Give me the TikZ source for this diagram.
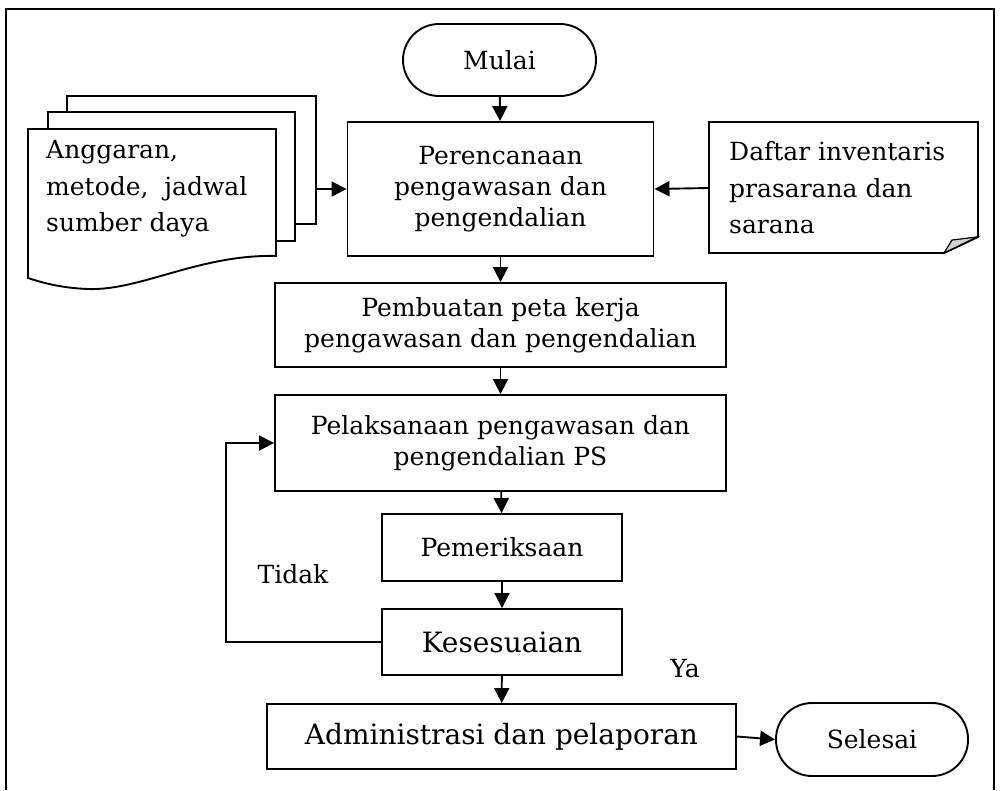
\documentclass[tikz,border=0pt]{standalone}
\usepackage{fontspec}
\setmainfont{DejaVu Serif}
\usetikzlibrary{arrows.meta}
\begin{document}
\begin{tikzpicture}[x=1pt,y=-1pt,
  box/.style={draw, line width=1.9pt, rectangle, inner sep=0pt, align=center,
              font=\fontsize{25}{31}\selectfont},
  bigbox/.style={box, font=\fontsize{28}{34}\selectfont},
  term/.style={box, rounded corners=36pt},
  flow/.style={line width=1.9pt, -{Triangle[length=15pt,width=15pt]}},
  lbl/.style={inner sep=0pt, font=\fontsize{25}{31}\selectfont},
  sidetext/.style={inner sep=0pt, anchor=west, align=left, font=\fontsize{25}{36.5}\selectfont},
  sheet/.style={draw, line width=1.9pt, fill=white, line join=miter}]
\useasboundingbox (0,0) rectangle (1000,790);

% outer frame, open at the bottom
\draw[line width=1.5pt] (6,790) -- (6,9) -- (994,9) -- (994,790);

% terminators
\node[term, minimum width=193pt, minimum height=72pt] (start) at (499.5,60) {Mulai};
\node[term, minimum width=192pt, minimum height=73pt] (stop) at (872,739.5) {Selesai};

% process steps
\node[box, minimum width=306pt, minimum height=134pt] (plan) at (500.5,189)
  {Perencanaan\\pengawasan dan\\pengendalian};
\node[box, minimum width=451pt, minimum height=84pt] (map) at (500.5,325)
  {Pembuatan peta kerja\\pengawasan dan pengendalian};
\node[box, minimum width=451pt, minimum height=96pt] (exec) at (500.5,443)
  {Pelaksanaan pengawasan dan\\pengendalian PS};
\node[box, minimum width=240pt, minimum height=67pt] (check) at (502,547.5) {Pemeriksaan};
\node[bigbox, minimum width=240pt, minimum height=66pt] (fit) at (502,642) {Kesesuaian};
\node[bigbox, minimum width=469pt, minimum height=65pt] (admin) at (501.5,736.5)
  {Administrasi dan pelaporan};

% stacked documents on the left
\path[sheet] (67,96) rectangle (316,224);
\path[sheet] (48,112) rectangle (295,241);
\path[sheet] (28,129) -- (276,129) -- (276,256)
  .. controls (200,254) and (140,291) .. (88,289)
  .. controls (60,288) and (40,282) .. (28,278) -- cycle;
\node[sidetext] (doctext) at (46,189) {Anggaran,\\metode,\ \ jadwal\\sumber daya};
\coordinate (stackout) at (316,189);

% note with folded corner on the right
\path[sheet] (709,122) -- (978,122) -- (978,237) -- (944,253) -- (709,253) -- cycle;
\filldraw[fill=gray!35, line width=1.2pt, line join=miter] (944,253) -- (977,237) -- (952,240) -- cycle;
\node[sidetext] (notetext) at (729,188) {Daftar inventaris\\prasarana dan\\sarana};
\coordinate (notein) at (709,188);

% connectors
\draw[flow] (start) -- (plan);
\draw[flow] (stackout) -- (plan.west);
\draw[flow] (notein) -- (plan.east);
\draw[flow] (plan) -- (map);
\draw[flow] (map) -- (exec);
\draw[flow] (exec) -- (check);
\draw[flow] (check) -- (fit);
\draw[flow] (fit) -- (admin);
\draw[flow] (admin.east) -- (stop.west);
\draw[flow] (fit.west) -- ++(-155,0) |- (exec.west);

% branch labels
\node[lbl] (no) at (293,574) {Tidak};
\node[lbl] (yes) at (685,669) {Ya};
\end{tikzpicture}
\end{document}
